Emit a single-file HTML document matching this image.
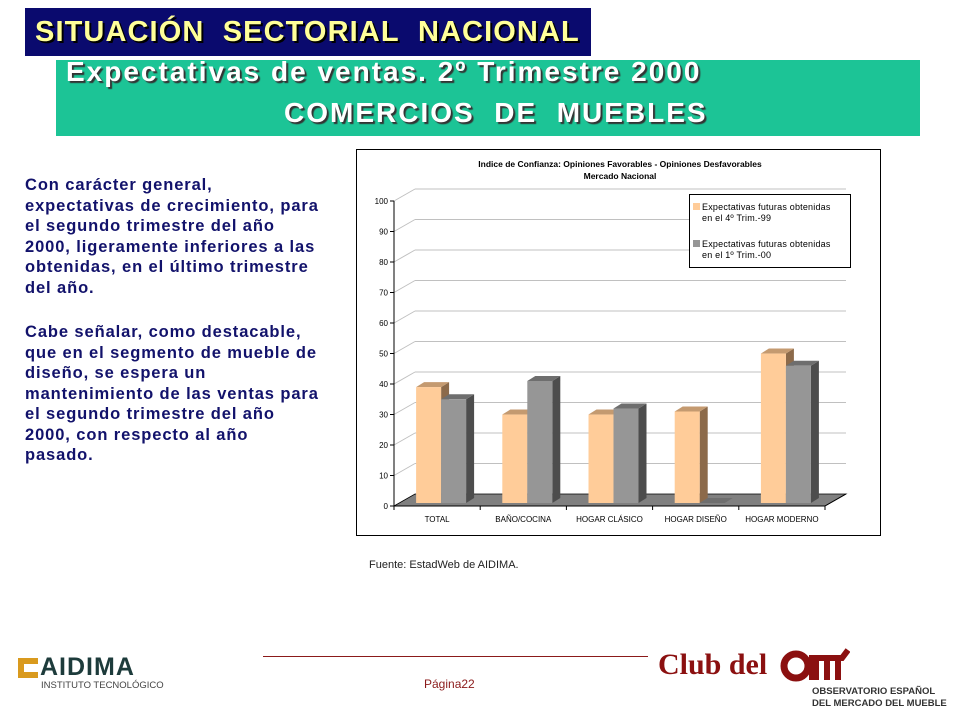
<!DOCTYPE html>
<html><head><meta charset="utf-8"><style>
body{margin:0;width:960px;height:720px;background:#fff;position:relative;overflow:hidden;font-family:"Liberation Sans",sans-serif}
.abs{position:absolute}
#t1{left:25px;top:8px;width:566px;height:48px;background:#0a0a6e;color:#ffff99;font-weight:bold;font-size:29px;line-height:48px;text-shadow:2px 2px 0 #000;box-sizing:border-box;padding-left:10px;letter-spacing:1.1px;white-space:nowrap}
#t2{left:56px;top:60px;width:864px;height:76px;background:#1cc496;color:#fff;font-weight:bold;font-size:28px;text-shadow:2px 2px 1px #333;white-space:nowrap;letter-spacing:2px}
.para{left:25px;color:#12126b;font-weight:bold;font-size:16.5px;line-height:20.5px;white-space:nowrap;letter-spacing:0.9px}
</style></head><body>
<div id="t1" class="abs">SITUACIÓN&nbsp; SECTORIAL&nbsp; NACIONAL</div>
<div id="t2" class="abs">
 <div class="abs" style="left:10px;top:-4px">Expectativas de ventas. 2º Trimestre 2000</div>
 <div class="abs" style="left:228px;top:37px">COMERCIOS&nbsp; DE&nbsp; MUEBLES</div>
</div>
<div class="abs para" style="top:175px">Con carácter general,<br>expectativas de crecimiento, para<br>el segundo trimestre del año<br>2000, ligeramente inferiores a las<br>obtenidas, en el último trimestre<br>del año.</div>
<div class="abs para" style="top:322px">Cabe señalar, como destacable,<br>que en el segmento de mueble de<br>diseño, se espera un<br>mantenimiento de las ventas para<br>el segundo trimestre del año<br>2000, con respecto al año<br>pasado.</div>

<svg class="abs" style="left:0;top:0" width="960" height="720" id="chart"></svg>

<div class="abs" style="left:369px;top:559px;font-size:11px;color:#222">Fuente: EstadWeb de AIDIMA.</div>

<div class="abs" style="left:263px;top:656px;width:385px;height:1px;background:#8b1a1a"></div>
<div class="abs" style="left:424px;top:677px;font-size:12px;color:#8b1a1a">Página22</div>
<div class="abs" style="left:18px;top:656px">
 <div class="abs" style="left:0;top:2px;width:20px;height:20px;background:#d99a1e"></div>
 <div class="abs" style="left:6px;top:8px;width:14px;height:8px;background:#fff"></div>
 <div class="abs" style="left:22px;top:-3px;font-size:25px;font-weight:bold;color:#1d3b3b;letter-spacing:1px">AIDIMA</div>
 <div class="abs" style="left:23px;top:24px;font-size:9.5px;color:#444;white-space:nowrap">INSTITUTO TECNOLÓGICO</div>
</div>
<div class="abs" style="left:658px;top:648px;font-family:'Liberation Serif',serif;font-size:30px;font-weight:bold;color:#8b1010">Club del</div>
<svg class="abs" style="left:780px;top:646px" width="70" height="38">
 <circle cx="16" cy="20" r="12" fill="none" stroke="#8b1010" stroke-width="7"/>
 <path d="M32 34V12h30l6-8M36 12v22M47 12v22M58 12v22" stroke="#8b1010" stroke-width="6" fill="none"/>
</svg>
<div class="abs" style="left:812px;top:686px;font-size:9.5px;font-weight:bold;color:#333;line-height:12px;white-space:nowrap">OBSERVATORIO ESPAÑOL<br>DEL MERCADO DEL MUEBLE</div>

<script>
const categories=["TOTAL","BAÑO/COCINA","HOGAR CLÁSICO","HOGAR DISEÑO","HOGAR MODERNO"];
const series4T99=[38,29,29,30,49];
const series1T00=[34,40,31,0,45];
const yTicks=[0,10,20,30,40,50,60,70,80,90,100];
const legendLabels=[["Expectativas futuras obtenidas","en el 4º Trim.-99"],["Expectativas futuras obtenidas","en el 1º Trim.-00"]];
const titleLines=["Indice de Confianza: Opiniones Favorables - Opiniones Desfavorables","Mercado Nacional"];

const svg=document.getElementById('chart');
const NS='http://www.w3.org/2000/svg';
function mk(tag,attrs,parent){const e=document.createElementNS(NS,tag);for(const k in attrs)e.setAttribute(k,attrs[k]);(parent||svg).appendChild(e);return e;}
const X0=394,X1=825,Y0=506,Y100=201,DX=21,DY=12;
const y=v=>Y0+(Y100-Y0)*v/100;
const catW=(X1-X0)/categories.length;
const xc=i=>X0+catW*(i+0.5);

let frame=mk('rect',{x:356.5,y:149.5,width:524,height:386,fill:'#fff',stroke:'#000','stroke-width':1});


titleLines.forEach((t,i)=>{const e=mk('text',{x:620,y:167+i*12,'text-anchor':'middle','font-size':8.5,'font-weight':'bold','font-family':'Liberation Sans, sans-serif'});e.textContent=t;

});
let fl=mk('polygon',{points:`${X0},${Y0} ${X0+DX},${Y0-DY} ${X1+DX},${Y0-DY} ${X1},${Y0}`,fill:'#808080',stroke:'#000','stroke-width':0.8});


yTicks.forEach(v=>{const yy=y(v);
 if(v>0){let g=mk('line',{x1:X0+DX,y1:yy-DY,x2:X1+DX,y2:yy-DY,stroke:'#c0c0c0','stroke-width':1});
 
 
 mk('line',{x1:X0,y1:yy,x2:X0+DX,y2:yy-DY,stroke:'#c0c0c0','stroke-width':1});}
 mk('line',{x1:X0-4,y1:yy,x2:X0,y2:yy,stroke:'#000'});
 const t=mk('text',{x:X0-6,y:yy+3,'text-anchor':'end','font-size':8,'font-family':'Liberation Sans, sans-serif'});t.textContent=v;
 
 
});
mk('line',{x1:X0,y1:Y0,x2:X0,y2:Y100,stroke:'#000'});
mk('line',{x1:X0,y1:Y0,x2:X1,y2:Y0,stroke:'#000'});
mk('line',{x1:X1,y1:Y0,x2:X1+DX,y2:Y0-DY,stroke:'#000'});
for(let i=0;i<=categories.length;i++)mk('line',{x1:X0+catW*i,y1:Y0,x2:X0+catW*i,y2:Y0+4,stroke:'#000'});
categories.forEach((c,i)=>{const t=mk('text',{x:xc(i),y:Y0+16,'text-anchor':'middle','font-size':8,'font-family':'Liberation Sans, sans-serif'});t.textContent=c;
 
 });
const BW=25,bdx=8,bdy=5,base=Y0-3;
function bar(xl,v,front,side,top,name){
 const yt=base-(Y0-y(v));
 const g=mk('g',{});
 
 
 mk('polygon',{points:`${xl+BW},${base} ${xl+BW+bdx},${base-bdy} ${xl+BW+bdx},${yt-bdy} ${xl+BW},${yt}`,fill:side},g);
 mk('polygon',{points:`${xl},${yt} ${xl+bdx},${yt-bdy} ${xl+BW+bdx},${yt-bdy} ${xl+BW},${yt}`,fill:top},g);
 mk('rect',{x:xl,y:yt,width:BW,height:base-yt,fill:front},g);
}
categories.forEach((c,i)=>{
 const cx=xc(i)+4;
 bar(cx-BW,series4T99[i],'#ffcc99','#8c6a4a','#c49a70','bar-4t99');
 bar(cx,series1T00[i],'#969696','#4d4d4d','#6e6e6e','bar-1t00');
});
const lg=mk('g',{});


mk('rect',{x:689.5,y:194.5,width:161,height:73,fill:'#fff',stroke:'#000'},lg);
const cols=['#ffcc99','#969696'];
legendLabels.forEach((l,i)=>{
 const e=mk('g',{},lg);
 
 
 mk('rect',{x:693,y:203+i*37,width:7,height:7,fill:cols[i]},e);
 l.forEach((s,j)=>{const t=mk('text',{x:702,y:210+i*37+j*11,'font-size':9,'font-family':'Liberation Sans, sans-serif','letter-spacing':0.2},e);t.textContent=s;});
});
</script>
</body></html>
